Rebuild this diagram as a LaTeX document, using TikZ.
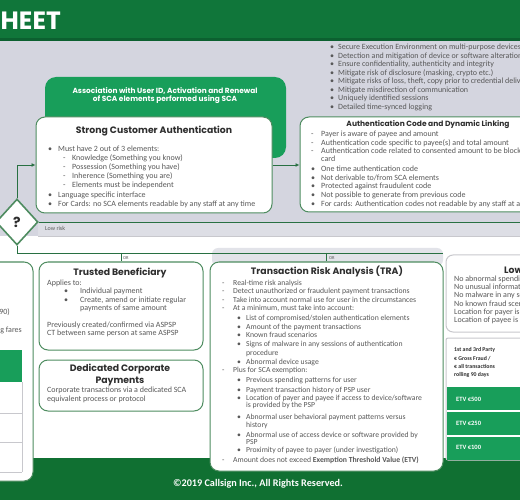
\documentclass[tikz,border=0pt]{standalone}
\usepackage{fontspec}
\setmainfont{Carlito}
\newfontfamily\titlefont{Poppins}
\usetikzlibrary{shapes.geometric,arrows.meta}
\definecolor{bannergreen}{RGB}{16,118,58}
\definecolor{bannerdark}{RGB}{12,96,48}
\definecolor{footgreen}{RGB}{16,112,50}
\definecolor{brightgreen}{RGB}{24,158,90}
\definecolor{bggray}{RGB}{212,213,223}
\definecolor{stripgray}{RGB}{221,222,229}
\definecolor{bandgray}{RGB}{226,227,233}
\definecolor{boxgreen}{RGB}{78,140,96}
\definecolor{linegreen}{RGB}{40,112,66}
\definecolor{txtgray}{RGB}{88,88,88}
\definecolor{ttlgray}{RGB}{45,45,45}
\definecolor{lightborder}{RGB}{200,200,205}
\newcount\tlc
\newcommand\tline[3]{\global\advance\tlc by 1\relax\node[txt,name=tl\the\tlc] at (#1,#2) {#3};}
\newcommand\bitem[4]{\tline{#1}{#3}{\textbullet}\tline{#2}{#3}{#4}}
\newcommand\ditem[4]{\tline{#1}{#3}{-}\tline{#2}{#3}{#4}}
\begin{document}
\begin{tikzpicture}[x=1pt,y=-1pt,
  txt/.style={inner sep=0pt,anchor=base west,font=\fontsize{8}{9}\selectfont,text=txtgray},
  ttl/.style={inner sep=0pt,anchor=base,font=\titlefont\bfseries\fontsize{9.3}{10}\selectfont,text=ttlgray},
  card/.style={draw=boxgreen,line width=1pt,fill=white,rounded corners=9pt,inner sep=0pt},
  greycard/.style={draw=lightborder,line width=1pt,fill=white,rounded corners=7pt,inner sep=0pt},
  conn/.style={draw=linegreen,line width=0.9pt},
  tip/.style={-{Latex[length=4pt,width=4pt]}},
  orlbl/.style={inner sep=0pt,anchor=base west,font=\fontsize{4.5}{5}\selectfont,text=txtgray},
  etvcell/.style={fill=brightgreen,inner sep=0pt,minimum width=80pt,minimum height=23pt},
  etvtxt/.style={inner sep=0pt,anchor=base west,text=white,font=\bfseries\fontsize{6.5}{7}\selectfont},
  etvhead/.style={inner sep=0pt,anchor=base west,text=ttlgray,font=\bfseries\fontsize{5.8}{6}\selectfont},
]
\clip (0,0) rectangle (520,500);
\fill[white] (0,0) rectangle (520,500);
\fill[bggray] (0,41) rectangle (520,236);
\fill[stripgray] (38,222) rectangle (520,236);
\fill[bannergreen] (0,0) rectangle (520,41);
\fill[bannerdark] (0,38) rectangle (520,41.5);
\node[inner sep=0pt,anchor=base east,text=white,font=\titlefont\bfseries\fontsize{25}{27}\selectfont] (banner) at (61,30) {SHEET};
\fill[footgreen] (0,458) rectangle (520,500);
\node[inner sep=0pt,anchor=base,text=white,font=\bfseries\fontsize{10.2}{11}\selectfont] (foot) at (258,486.5) {©2019 Callsign Inc., All Rights Reserved.};

% top right list
\bitem{330}{338}{50}{Secure Execution Environment on multi-purpose devices}
\bitem{330}{338}{58.5}{Detection and mitigation of device or software alteration}
\bitem{330}{338}{67}{Ensure confidentiality, authenticity and integrity}
\bitem{330}{338}{75.5}{Mitigate risk of disclosure (masking, crypto etc.)}
\bitem{330}{338}{84}{Mitigate risks of loss, theft, copy prior to credential delivery}
\bitem{330}{338}{92.5}{Mitigate misdirection of communication}
\bitem{330}{338}{101}{Uniquely identified sessions}
\bitem{330}{338}{109.5}{Detailed time-synced logging}

% association box
\node[fill=brightgreen,rounded corners=11pt,inner sep=0pt,minimum width=241pt,minimum height=81pt] (assoc) at (165.5,117.5) {};
\node[inner sep=0pt,anchor=base,text=white,font=\titlefont\bfseries\fontsize{7.4}{8}\selectfont] (assoc1) at (165,94) {Association with User ID, Activation and Renewal};
\node[inner sep=0pt,anchor=base,text=white,font=\titlefont\bfseries\fontsize{7.4}{8}\selectfont] (assoc2) at (165,101.5) {of SCA elements performed using SCA};

% SCA box
\node[card,minimum width=236pt,minimum height=96pt] (sca) at (154,165) {};
\node[ttl] (scat) at (154,133.5) {Strong Customer Authentication};
\bitem{48}{58}{152}{Must have 2 out of 3 elements:}
\ditem{63}{72}{161}{Knowledge (Something you know)}
\ditem{63}{72}{170}{Possession (Something you have)}
\ditem{63}{72}{179}{Inherence (Something you are)}
\ditem{63}{72}{188}{Elements must be independent}
\bitem{48}{58}{198}{Language specific interface}
\bitem{48}{58}{206.5}{For Cards: no SCA elements readable by any staff at any time}

% Auth box
\node[card,minimum width=245pt,minimum height=95pt] (auth) at (422.5,164.5) {};
\node[ttl,font=\titlefont\bfseries\fontsize{7.5}{8}\selectfont] (autht) at (428,126.5) {Authentication Code and Dynamic Linking};
\ditem{311}{321}{137}{Payer is aware of payee and amount}
\ditem{311}{321}{145.5}{Authentication code specific to payee(s) and total amount}
\ditem{311}{321}{154}{Authentication code related to consented amount to be blocked on}
\tline{321}{162}{card}
\bitem{311}{321}{172}{One time authentication code}
\bitem{311}{321}{180.5}{Not derivable to/from SCA elements}
\bitem{311}{321}{189}{Protected against fraudulent code}
\bitem{311}{321}{198}{Not possible to generate from previous code}
\bitem{311}{321}{206.5}{For cards: Authentication codes not readable by any staff at any time}

% decision
\node[diamond,aspect=0.9,draw=boxgreen,line width=1.6pt,fill=white,minimum width=42pt,minimum height=46pt,inner sep=0pt,text=ttlgray,font=\titlefont\bfseries\fontsize{14}{15}\selectfont] (q) at (17,222) {?};
\draw[conn,tip] (q.north) |- (sca.west);
\draw[conn,tip] (sca.east) -- (sca.east -| auth.west);
\coordinate (lrend) at (520,222);
\draw[conn] (q.east) -- (lrend);
\draw[lightborder,line width=0.6pt] (38,236) -- (520,236);
\node[inner sep=0pt,anchor=base west,font=\fontsize{6}{7}\selectfont,text=txtgray] (lowrisk) at (45,231) {Low risk};

% left partial box
\node[card,minimum width=63pt,minimum height=219pt] (lb) at (1.5,371.5) {};
\node[txt,anchor=base east] (lb1) at (10,314) {90)};
\node[txt,anchor=base east] (lb2) at (22,332) {ng fares};
\fill[brightgreen] (-5,350) rectangle (22,382);
\draw[lightborder,line width=0.6pt] (22,382) -- (22,472);
\draw[lightborder,line width=0.6pt] (0,413) -- (22,413);
\draw[lightborder,line width=0.6pt] (0,442) -- (22,442);
\draw[lightborder,line width=0.6pt] (0,472) -- (22,472);

% Trusted beneficiary
\node[card,minimum width=164pt,minimum height=88pt] (tb) at (121,306) {};
\node[ttl] (tbt) at (120,276) {Trusted Beneficiary};
\tline{47}{285}{Applies to:}
\bitem{64}{80}{294}{Individual payment}
\bitem{64}{80}{302}{Create, amend or initiate regular}
\tline{80}{310}{payments of same amount}
\tline{47}{327}{Previously created/confirmed via ASPSP}
\tline{47}{335.5}{CT between same person at same ASPSP}

% Dedicated corporate
\node[card,minimum width=164pt,minimum height=51pt] (dcp) at (121,385.5) {};
\node[ttl] (dcpt1) at (120,371) {Dedicated Corporate};
\node[ttl] (dcpt2) at (120,383) {Payments};
\tline{47}{392.5}{Corporate transactions via a dedicated SCA}
\tline{47}{401.5}{equivalent process or protocol}

% band above TRA
\fill[bandgray,rounded corners=6pt] (212,248) rectangle (443,266);

% TRA
\begin{scope}[txt/.append style={font=\fontsize{7.7}{9}\selectfont}]
\node[card,minimum width=233pt,minimum height=209pt] (tra) at (326.5,366.5) {};
\node[ttl] (trat) at (327,275) {Transaction Risk Analysis (TRA)};
\ditem{222}{233}{285}{Real-time risk analysis}
\ditem{222}{233}{294}{Detect unauthorized or fraudulent payment transactions}
\ditem{222}{233}{302}{Take into account normal use for user in the circumstances}
\ditem{222}{233}{310.5}{At a minimum, must take into account:}
\bitem{237}{246}{320}{List of compromised/stolen authentication elements}
\bitem{237}{246}{329}{Amount of the payment transactions}
\bitem{237}{246}{337.5}{Known fraud scenarios}
\bitem{237}{246}{346}{Signs of malware in any sessions of authentication}
\tline{246}{355}{procedure}
\bitem{237}{246}{364}{Abnormal device usage}
\ditem{222}{233}{372.5}{Plus for SCA exemption:}
\bitem{237}{246}{382}{Previous spending patterns for user}
\bitem{237}{246}{392}{Payment transaction history of PSP user}
\bitem{237}{246}{400}{Location of payer and payee if access to device/software}
\tline{246}{407.5}{is provided by the PSP}
\bitem{237}{246}{419}{Abnormal user behavioral payment patterns versus}
\tline{246}{427}{history}
\bitem{237}{246}{437}{Abnormal use of access device or software provided by}
\tline{246}{444.5}{PSP}
\bitem{237}{246}{452.5}{Proximity of payee to payer (under investigation)}
\ditem{222}{233}{462}{Amount does not exceed \textbf{Exemption Threshold Value (ETV)}}
\end{scope}

% bus to exemptions
\coordinate (busend) at (443,253);
\draw[conn] (q.south) |- (busend);
\draw[conn] (tb.north |- busend) -- (tb.north);
\draw[conn] (tra.north |- busend) -- (tra.north);
\node[orlbl] (or1) at (123,259.5) {OR};
\node[orlbl] (or2) at (329,259.5) {OR};

% Low box right
\node[greycard,minimum width=94pt,minimum height=77pt] (low) at (493,293.5) {};
\node[ttl,anchor=base west] (lowt) at (504,273.5) {Low};
\tline{454}{281.5}{No abnormal spending}
\tline{454}{289.5}{No unusual information}
\tline{454}{298}{No malware in any session}
\tline{454}{306}{No known fraud scenario}
\tline{454}{314.5}{Location for payer is}
\tline{454}{322.5}{Location of payee is}

% ETV table
\node[draw=lightborder,line width=1pt,fill=white,rounded corners=2pt,inner sep=0pt,minimum width=94pt,minimum height=122pt] (etv) at (493,399) {};
\node[etvhead] (eh1) at (454,351) {1st and 3rd Party};
\node[etvhead] (eh2) at (454,360) {€ Gross Fraud /};
\node[etvhead] (eh3) at (454,368) {€ all transactions};
\node[etvhead] (eh4) at (454,376.5) {rolling 90 days};
\node[etvcell] (c1) at (487,398) {};
\node[etvcell] (c2) at (487,423.5) {};
\node[etvcell] (c3) at (487,448) {};
\node[etvtxt] (c1t) at (456,401) {ETV €500};
\node[etvtxt] (c2t) at (456,425.5) {ETV €250};
\node[etvtxt] (c3t) at (456,449.5) {ETV €100};
\end{tikzpicture}
\end{document}
